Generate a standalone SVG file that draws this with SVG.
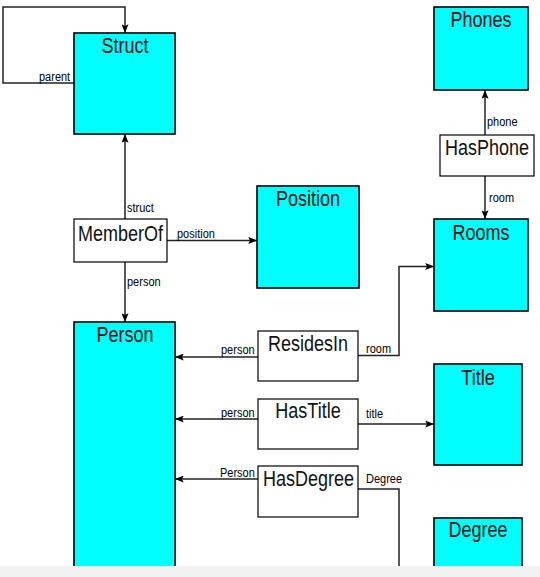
<svg xmlns="http://www.w3.org/2000/svg" width="540" height="577" viewBox="0 0 540 577">
<style>
.ent{fill:#00ffff;stroke:#000;stroke-width:1.6}
.rel{fill:#fff;stroke:#000;stroke-width:1.2}
.t{font-family:"Liberation Sans",Arial,sans-serif;font-size:18px;fill:#111;text-anchor:middle}
.l{font-family:"Liberation Sans",Arial,sans-serif;font-size:11px;fill:#000}
.c{fill:none;stroke:#222;stroke-width:1.5}
</style>
<defs>
<marker id="ah" viewBox="0 0 10 8" refX="10" refY="4" markerWidth="9" markerHeight="7" markerUnits="userSpaceOnUse" orient="auto">
<path d="M0,0 L10,4 L0,8 L2,4 Z" fill="#000"/>
</marker>
</defs>
<rect width="540" height="577" fill="#fff"/>
<g id="connectors">
<path class="c" d="M74,83 H3 V7 H125 V33" marker-end="url(#ah)"/>
<path class="c" d="M125,219 V134" marker-end="url(#ah)"/>
<path class="c" d="M125,262 V322" marker-end="url(#ah)"/>
<path class="c" d="M167,240.5 H257" marker-end="url(#ah)"/>
<path class="c" d="M258,357 H175" marker-end="url(#ah)"/>
<path class="c" d="M358,355.5 H399 V266.5 H434" marker-end="url(#ah)"/>
<path class="c" d="M258,419 H175" marker-end="url(#ah)"/>
<path class="c" d="M358,424 H434" marker-end="url(#ah)"/>
<path class="c" d="M258,479 H175" marker-end="url(#ah)"/>
<path class="c" d="M358,489 H399 V580"/>
<path class="c" d="M485,135 V90" marker-end="url(#ah)"/>
<path class="c" d="M485,176 V219" marker-end="url(#ah)"/>
<text class="l" transform="translate(39 81) scale(1 1.15)">parent</text>
<text class="l" transform="translate(127 212) scale(1 1.15)">struct</text>
<text class="l" transform="translate(127 286) scale(1 1.15)">person</text>
<text class="l" transform="translate(177 238) scale(1 1.15)">position</text>
<text class="l" transform="translate(221 354) scale(1 1.15)">person</text>
<text class="l" transform="translate(366 353) scale(1 1.15)">room</text>
<text class="l" transform="translate(221 417) scale(1 1.15)">person</text>
<text class="l" transform="translate(366 418) scale(1 1.15)">title</text>
<text class="l" transform="translate(220 477) scale(1 1.15)">Person</text>
<text class="l" transform="translate(366 483) scale(1 1.15)">Degree</text>
<text class="l" transform="translate(487 126) scale(1 1.15)">phone</text>
<text class="l" transform="translate(489 202) scale(1 1.15)">room</text>
</g>
<g id="Struct"><rect class="ent" x="74" y="33" width="101" height="101"/><text class="t" transform="translate(125 53) scale(1 1.2)">Struct</text></g>
<g id="MemberOf"><rect class="rel" x="74" y="219" width="93" height="43"/><text class="t" transform="translate(120.5 241) scale(1 1.2)">MemberOf</text></g>
<g id="Position"><rect class="ent" x="257" y="186" width="102" height="102"/><text class="t" transform="translate(308 206) scale(1 1.2)">Position</text></g>
<g id="Person"><rect class="ent" x="74" y="322" width="101" height="270"/><text class="t" transform="translate(125 342) scale(1 1.2)">Person</text></g>
<g id="ResidesIn"><rect class="rel" x="258" y="331" width="100" height="50"/><text class="t" transform="translate(308 351) scale(1 1.2)">ResidesIn</text></g>
<g id="HasTitle"><rect class="rel" x="258" y="399" width="100" height="50"/><text class="t" transform="translate(308 418) scale(1 1.2)">HasTitle</text></g>
<g id="HasDegree"><rect class="rel" x="258" y="466" width="100" height="51"/><text class="t" transform="translate(308.5 486) scale(1 1.2)">HasDegree</text></g>
<g id="Phones"><rect class="ent" x="434" y="7" width="94" height="83"/><text class="t" transform="translate(481 27) scale(1 1.2)">Phones</text></g>
<g id="HasPhone"><rect class="rel" x="440" y="135" width="94" height="41"/><text class="t" transform="translate(487 155) scale(1 1.2)">HasPhone</text></g>
<g id="Rooms"><rect class="ent" x="434" y="219" width="94" height="92"/><text class="t" transform="translate(481 240) scale(1 1.2)">Rooms</text></g>
<g id="Title"><rect class="ent" x="434" y="364" width="88" height="101"/><text class="t" transform="translate(478 385) scale(1 1.2)">Title</text></g>
<g id="Degree"><rect class="ent" x="434" y="518" width="88" height="80"/><text class="t" transform="translate(478 537) scale(1 1.2)">Degree</text></g>
<rect x="0" y="566" width="540" height="11" fill="#f2f2f2"/>
</svg>
